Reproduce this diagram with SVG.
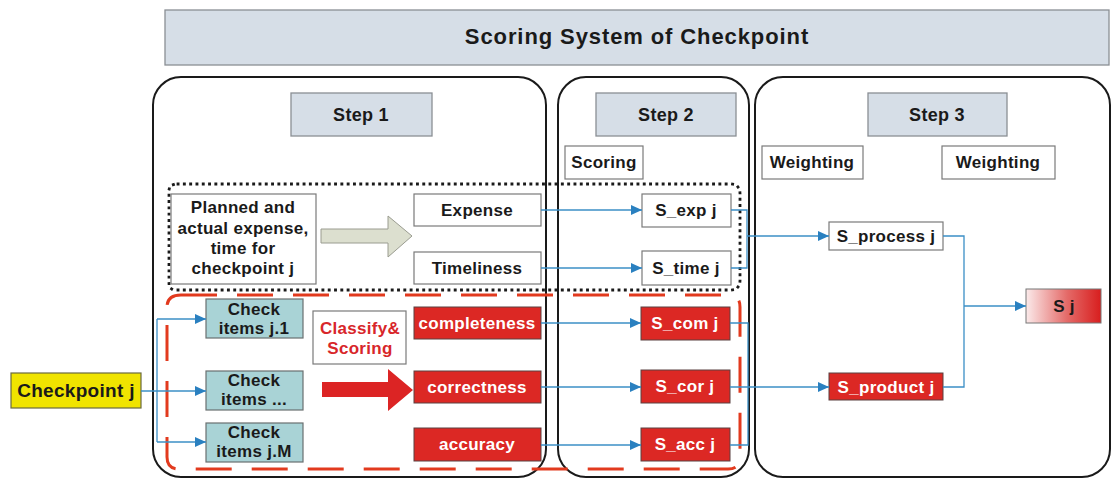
<svg xmlns="http://www.w3.org/2000/svg" width="1111" height="479" viewBox="0 0 1111 479">
<style>
text{font-family:"Liberation Sans",Arial,sans-serif;font-weight:bold;font-size:17px;fill:#1a1a1a;text-anchor:middle;letter-spacing:0.3px}
.hdr{fill:#d6dee7;stroke:#8a8f94;stroke-width:1.3}
.wbox{fill:#fff;stroke:#7a7a7a;stroke-width:1.2}
.teal{fill:#a9d3d6;stroke:#6a7070;stroke-width:1.2}
.red{fill:#dc2824;stroke:#5a4040;stroke-width:1}
.wt{fill:#fff}
.panel{fill:none;stroke:#1a1a1a;stroke-width:2}
.conn{fill:none;stroke:#3b8fc6;stroke-width:1.3}
</style>
<defs>
<marker id="ah" markerUnits="userSpaceOnUse" markerWidth="12" markerHeight="10" refX="11" refY="5" orient="auto">
<path d="M0,0 L11,5 L0,10 z" fill="#2a80c0"/>
</marker>
<linearGradient id="sg" x1="0" y1="0" x2="1" y2="0">
<stop offset="0" stop-color="#fbeaea"/>
<stop offset="0.55" stop-color="#e46a68"/>
<stop offset="1" stop-color="#d81e1e"/>
</linearGradient>
</defs>

<g id="title">
<rect x="165" y="10" width="944" height="55" class="hdr"/>
<text x="637" y="44" style="font-size:22px;letter-spacing:0.9px">Scoring System of Checkpoint</text>
</g>

<g id="panels">
<rect x="153" y="77" width="393" height="400" rx="28" class="panel"/>
<rect x="558" y="77" width="191" height="400" rx="28" class="panel"/>
<rect x="755" y="77" width="355" height="400" rx="28" class="panel"/>
</g>

<g id="step1"><rect x="291" y="93" width="141" height="43" class="hdr"/><text x="361" y="121" style="font-size:18px">Step 1</text></g>
<g id="step2"><rect x="596" y="93" width="140" height="43" class="hdr"/><text x="666" y="121" style="font-size:18px">Step 2</text></g>
<g id="step3"><rect x="868" y="93" width="139" height="43" class="hdr"/><text x="937" y="121" style="font-size:18px">Step 3</text></g>

<g id="scoring"><rect x="565" y="146" width="78" height="33" class="wbox"/><text x="604" y="168">Scoring</text></g>
<g id="weighting1"><rect x="762" y="146" width="101" height="33" class="wbox"/><text x="812" y="168">Weighting</text></g>
<g id="weighting2"><rect x="942" y="146" width="113" height="33" class="wbox"/><text x="998" y="168">Weighting</text></g>

<g id="process-group">
<path d="M178,184 H730 Q740,184 740,194 V280 Q740,290 730,290 H176 Q169,290 169,283 V191 Q169,184 178,184 Z" fill="none" stroke="#1a1a1a" stroke-width="2.8" stroke-dasharray="0.1 6.2" stroke-linecap="square"/>
</g>

<g id="product-group">
<path d="M181,295 H728 Q740,295 740,307 V457 Q740,469 728,469 H179 Q167,469 167,457 V307 Q167,295 181,295 Z" fill="none" stroke="#e23a1e" stroke-width="3" stroke-dasharray="36 20"/>
</g>

<g id="planned">
<rect x="171" y="194" width="145" height="90" class="wbox"/>
<text x="243" y="213">Planned and</text>
<text x="243" y="234">actual expense,</text>
<text x="243" y="254">time for</text>
<text x="243" y="274">checkpoint j</text>
</g>

<g id="gray-arrow">
<path d="M321,229 H388 V216 L412,236 L388,257 V243 H321 Z" fill="#dcdfcf" stroke="#9a9c90" stroke-width="1"/>
</g>

<g id="expense"><rect x="414" y="194" width="127" height="32" class="wbox"/><text x="477" y="216">Expense</text></g>
<g id="timeliness"><rect x="414" y="252" width="127" height="32" class="wbox"/><text x="477" y="274">Timeliness</text></g>

<g id="s-exp"><rect x="642" y="194" width="89" height="33" class="wbox"/><text x="686" y="216">S_exp j</text></g>
<g id="s-time"><rect x="642" y="251" width="89" height="34" class="wbox"/><text x="686" y="274">S_time j</text></g>

<g id="checkpoint"><rect x="11" y="373" width="130" height="35" fill="#f0e400" stroke="#6a6a40" stroke-width="1.2"/><text x="76" y="397" style="font-size:19px">Checkpoint j</text></g>

<g id="check1"><rect x="206" y="299" width="97" height="39" class="teal"/><text x="254" y="315">Check</text><text x="254" y="334">items j.1</text></g>
<g id="check2"><rect x="206" y="371" width="97" height="39" class="teal"/><text x="254" y="386">Check</text><text x="254" y="405">items ...</text></g>
<g id="check3"><rect x="206" y="423" width="97" height="39" class="teal"/><text x="254" y="438">Check</text><text x="254" y="457">items j.M</text></g>

<g id="classify"><rect x="313" y="311" width="93" height="53" class="wbox"/><text x="360" y="334" style="fill:#d8262a">Classify&amp;</text><text x="360" y="354" style="fill:#d8262a">Scoring</text></g>

<g id="red-arrow"><path d="M322,382 H388 V369 L413,390 L388,411 V397 H322 Z" fill="#dc2424"/></g>

<g id="completeness"><rect x="414" y="307" width="127" height="32" class="red"/><text x="477" y="329" class="wt">completeness</text></g>
<g id="correctness"><rect x="414" y="371" width="127" height="32" class="red"/><text x="477" y="393" class="wt">correctness</text></g>
<g id="accuracy"><rect x="414" y="428" width="127" height="33" class="red"/><text x="477" y="450" class="wt">accuracy</text></g>

<g id="s-com"><rect x="641" y="307" width="89" height="33" class="red"/><text x="685" y="329" class="wt">S_com j</text></g>
<g id="s-cor"><rect x="641" y="370" width="89" height="33" class="red"/><text x="685" y="392" class="wt">S_cor j</text></g>
<g id="s-acc"><rect x="641" y="428" width="89" height="33" class="red"/><text x="685" y="450" class="wt">S_acc j</text></g>

<g id="s-process"><rect x="829" y="222" width="114" height="28" class="wbox"/><text x="886" y="242">S_process j</text></g>
<g id="s-product"><rect x="829" y="373" width="114" height="27" class="red"/><text x="886" y="393" class="wt">S_product j</text></g>
<g id="s-j"><rect x="1026" y="289" width="75" height="34" fill="url(#sg)" stroke="#777" stroke-width="1"/><text x="1064" y="312">S j</text></g>

<g id="connectors">
<path class="conn" d="M141,391 H206" marker-end="url(#ah)"/>
<path class="conn" d="M157,319 V442"/>
<path class="conn" d="M157,319 H206" marker-end="url(#ah)"/>
<path class="conn" d="M157,442 H206" marker-end="url(#ah)"/>
<path class="conn" d="M541,210 H642" marker-end="url(#ah)"/>
<path class="conn" d="M541,268 H642" marker-end="url(#ah)"/>
<path class="conn" d="M541,323 H641" marker-end="url(#ah)"/>
<path class="conn" d="M541,387 H641" marker-end="url(#ah)"/>
<path class="conn" d="M541,445 H641" marker-end="url(#ah)"/>
<path class="conn" d="M731,210 H747 V268 H731"/>
<path class="conn" d="M747,236 H829" marker-end="url(#ah)"/>
<path class="conn" d="M730,323 H748 V445 H730"/>
<path class="conn" d="M730,387 H829" marker-end="url(#ah)"/>
<path class="conn" d="M943,236 H964 V387 H943"/>
<path class="conn" d="M964,306 H1026" marker-end="url(#ah)"/>
</g>
</svg>
